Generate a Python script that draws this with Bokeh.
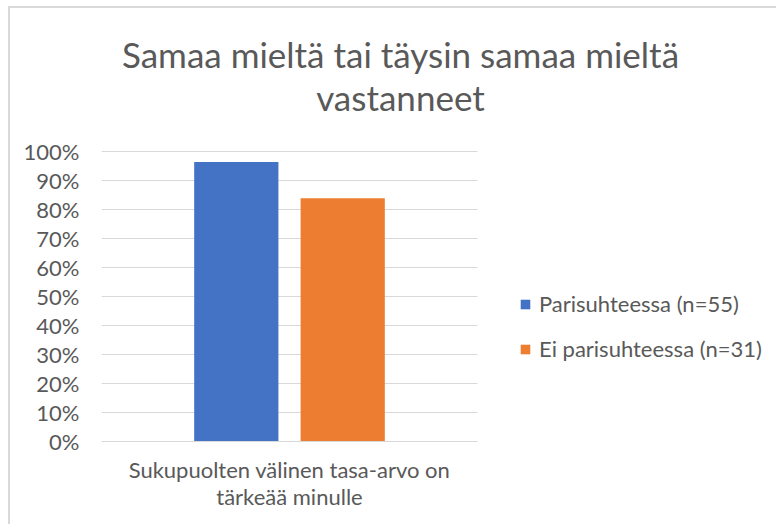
from bokeh.plotting import figure
from bokeh.models import (ColumnDataSource, Range1d, FixedTicker, NumeralTickFormatter,
                          Legend, LegendItem, Label)
from bokeh.transform import dodge
from bokeh.embed import file_html
from bokeh.resources import INLINE

categories = ["Sukupuolten välinen tasa-arvo on\ntärkeää minulle"]
series_names = ["Parisuhteessa (n=55)", "Ei parisuhteessa (n=31)"]
parisuhteessa = [0.964]
ei_parisuhteessa = [0.839]
colors = ["#4472C4", "#ED7D31"]
y_ticks = [i / 10 for i in range(11)]
title_lines = ["Samaa mieltä tai täysin samaa mieltä", "vastanneet"]

FONT = "Lato"
TXT = "#595959"
GRID = "#d9d9d9"

# one category slot = 376 px of the frame; the frame also holds title and legend
cat_pos = [0.5 + i for i in range(len(categories))]
PX = 376.0          # pixels per category unit
PY = 290.0          # pixels per 100 %
FRAME_W, FRAME_H = 677, 433

source = ColumnDataSource(data=dict(x=cat_pos, a=parisuhteessa, b=ei_parisuhteessa))
grid_src = ColumnDataSource(data=dict(
    y=y_ticks,
    x0=[cat_pos[0] - 0.5] * len(y_ticks),
    x1=[cat_pos[-1] + 0.5] * len(y_ticks)))

p = figure(width=768, height=518,
           x_range=Range1d(0, FRAME_W / PX), y_range=Range1d(0, FRAME_H / PY),
           output_backend="svg", toolbar_location=None,
           min_border_left=91, min_border_right=0, min_border_top=0,
           min_border_bottom=85)
p.outline_line_color = None
p.styles = {"border-top": "2px solid #d9d9d9", "border-left": "2px solid #d9d9d9",
            "margin-top": "6px", "margin-left": "8px"}
p.xgrid.grid_line_color = None
p.ygrid.grid_line_color = None

# horizontal gridlines at the y ticks, spanning the category area
p.segment(x0="x0", x1="x1", y0="y", y1="y", source=grid_src,
          line_color=GRID, line_width=1.2)

r1 = p.vbar(x=dodge("x", -0.1415), top="a", width=0.224,
            source=source, fill_color=colors[0], line_color=None)
r2 = p.vbar(x=dodge("x", 0.1415), top="b", width=0.224,
            source=source, fill_color=colors[1], line_color=None)

# title (two lines), centred over the chart
title_x = 299 / PX
for txt, ypx in zip(title_lines, [388, 345]):
    p.add_layout(Label(x=title_x, y=ypx / PY, text=txt, text_align="center",
                       text_baseline="middle", text_font=FONT, text_font_size="35px",
                       text_color=TXT))

p.yaxis.ticker = FixedTicker(ticks=y_ticks)
p.yaxis.formatter = NumeralTickFormatter(format="0%")
p.yaxis.axis_line_color = None
p.yaxis.major_tick_line_color = None
p.yaxis.minor_tick_line_color = None
p.yaxis.major_label_text_font = FONT
p.yaxis.major_label_text_font_size = "22px"
p.yaxis.major_label_text_color = TXT
p.yaxis.major_label_standoff = 16

p.xaxis.ticker = FixedTicker(ticks=cat_pos)
p.xaxis.major_label_overrides = {c: lab for c, lab in zip(cat_pos, categories)}
p.xaxis.bounds = (cat_pos[0] - 0.5, cat_pos[-1] + 0.5)
p.xaxis.axis_line_color = GRID
p.xaxis.axis_line_width = 1.2
p.xaxis.major_tick_line_color = None
p.xaxis.minor_tick_line_color = None
p.xaxis.major_label_text_font = FONT
p.xaxis.major_label_text_font_size = "22px"
p.xaxis.major_label_text_color = TXT
p.xaxis.major_label_text_line_height = 1.0
p.xaxis.major_label_standoff = 8

legend = Legend(items=[LegendItem(label=series_names[0], renderers=[r1]),
                       LegendItem(label=series_names[1], renderers=[r2])],
                location=(418, 79), orientation="vertical",
                label_text_font=FONT, label_text_font_size="22px", label_text_color=TXT,
                glyph_width=12, glyph_height=12, label_standoff=8, spacing=18,
                padding=0, margin=0, border_line_color=None, background_fill_alpha=0)
p.add_layout(legend, "center")

open("out.html", "w").write(file_html(p, INLINE))
